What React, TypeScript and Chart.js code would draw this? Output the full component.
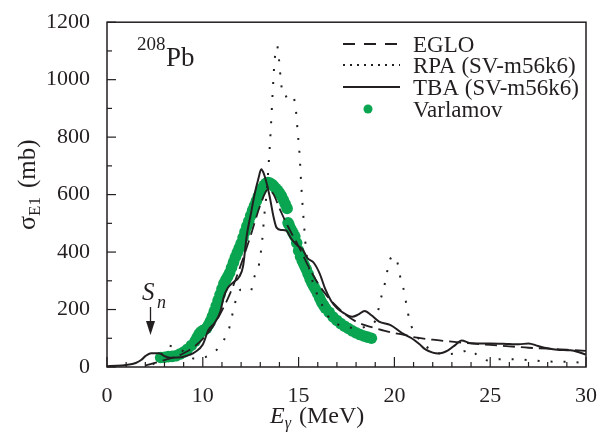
import { useEffect, useRef } from 'react';
import { Chart, registerables } from 'chart.js';

Chart.register(...registerables);

// ---- data ----
const egloEnergy = [7.0, 7.5, 8.0, 8.5, 9.0, 9.5, 10.0, 10.5, 11.0, 11.5, 12.0, 12.5, 13.0, 13.4, 13.7, 14.0, 14.5, 15.0, 15.5, 16.0, 16.5, 17.0, 17.5, 18.0, 18.5, 19.0, 19.5, 20.0, 20.5, 21.0, 22.0, 23.0, 24.0, 25.0, 26.0, 27.0, 28.0, 29.0, 30.0];
const egloSigma = [5, 14, 24, 34, 48, 68, 98, 138, 196, 268, 358, 458, 563, 618, 600, 552, 482, 420, 352, 292, 246, 210, 180, 158, 145, 135, 126, 118, 112, 104, 95, 88, 82, 77, 72, 67, 64, 60, 56];

const rpaEnergy = [7.4, 7.8, 8.2, 8.5, 8.8, 9.2, 9.5, 9.9, 10.3, 10.8, 11.1, 11.4, 11.6, 11.8, 12.0, 12.3, 12.5, 12.7, 12.9, 13.1, 13.2, 13.35, 13.45, 13.55, 13.65, 13.75, 13.88, 13.97, 14.1, 14.25, 14.45, 14.65, 14.85, 14.95, 15.05, 15.15, 15.3, 15.4, 15.6, 15.9, 16.2, 16.5, 17.0, 17.5, 18.0, 18.5, 19.0, 19.3, 19.5, 19.75, 19.95, 20.1, 20.3, 20.5, 20.7, 20.9, 21.2, 21.6, 22.2, 22.8, 23.4, 24.0, 24.4, 25.0, 25.5, 26.2, 27.0, 28.0, 29.0, 29.9];
const rpaSigma = [8, 40, 74, 70, 62, 45, 30, 30, 40, 65, 94, 140, 200, 250, 270, 270, 265, 315, 345, 440, 520, 620, 720, 830, 960, 1068, 1117, 1075, 980, 940, 945, 950, 900, 820, 740, 620, 480, 400, 330, 265, 220, 180, 150, 140, 135, 140, 160, 240, 290, 370, 385, 378, 315, 265, 190, 140, 105, 75, 50, 45, 50, 60, 35, 22, 27, 27, 24, 19, 18, 15];

const tbaEnergy = [5.0, 5.5, 6.0, 6.5, 6.8, 7.0, 7.3, 7.7, 8.0, 8.3, 8.6, 9.0, 9.3, 9.6, 10.0, 10.3, 10.6, 10.9, 11.1, 11.3, 11.6, 11.9, 12.1, 12.3, 12.5, 12.7, 12.9, 13.05, 13.2, 13.35, 13.5, 13.7, 13.85, 14.1, 14.35, 14.6, 14.9, 15.2, 15.45, 15.8, 16.1, 16.4, 16.7, 17.0, 17.3, 17.8, 18.1, 18.45, 18.8, 19.2, 19.8, 20.4, 20.9, 21.3, 21.6, 22.0, 22.3, 22.8, 23.2, 23.5, 24.0, 25.0, 26.0, 26.5, 27.0, 27.5, 28.0, 28.5, 29.2, 29.6, 30.0];
const tbaSigma = [3, 4, 7, 14, 25, 38, 48, 48, 38, 32, 33, 36, 42, 52, 78, 130, 152, 190, 245, 275, 295, 314, 350, 460, 530, 600, 655, 688, 670, 635, 590, 520, 485, 477, 475, 448, 425, 410, 380, 362, 325, 270, 230, 205, 190, 175, 182, 195, 180, 158, 146, 118, 100, 80, 62, 50, 47, 58, 78, 92, 83, 82, 80, 79, 82, 73, 65, 60, 58, 52, 43];

const varlamovEnergy = [7.8, 8.0, 8.2, 8.4, 8.6, 8.8, 9.0, 9.2, 9.4, 9.6, 9.7, 9.8, 9.9, 10.0, 10.1, 10.2, 10.3, 10.4, 10.5, 10.6, 10.7, 10.8, 10.9, 11.0, 11.1, 11.2, 11.3, 11.4, 11.5, 11.6, 11.7, 11.8, 11.9, 12.0, 12.1, 12.2, 12.3, 12.4, 12.5, 12.6, 12.7, 12.8, 12.9, 13.0, 13.1, 13.2, 13.3, 13.4, 13.5, 13.6, 13.7, 13.8, 13.9, 14.0, 14.1, 14.2, 14.3, 14.4, 14.45, 14.5, 14.6, 14.7, 14.8, 14.9, 15.0, 15.1, 15.2, 15.3, 15.4, 15.5, 15.6, 15.7, 15.8, 15.9, 16.0, 16.1, 16.2, 16.3, 16.4, 16.6, 16.8, 17.0, 17.2, 17.4, 17.6, 17.8, 18.0, 18.2, 18.4, 18.6, 18.8];
const varlamovSigma = [33, 34, 36, 37, 39, 45, 52, 62, 75, 90, 102, 114, 122, 127, 130, 135, 147, 160, 176, 194, 213, 232, 252, 272, 290, 303, 315, 328, 346, 364, 382, 398, 414, 430, 450, 470, 490, 508, 527, 545, 562, 578, 595, 610, 622, 632, 639, 642, 640, 636, 630, 622, 615, 606, 596, 582, 568, 552, 502, 495, 480, 468, 455, 432, 405, 385, 368, 354, 340, 323, 306, 292, 280, 268, 255, 240, 226, 215, 205, 190, 174, 162, 151, 142, 134, 126, 119, 113, 108, 104, 100];

const xTickValues = [5, 10, 15, 20, 25, 30];
const xTickLabels = ['0', '10', '15', '20', '25', '30'];
const yTickValues = [0, 200, 400, 600, 800, 1000, 1200];

const seriesNames = ['EGLO', 'RPA (SV-m56k6)', 'TBA (SV-m56k6)', 'Varlamov'];

const INK = '#231f20';
const GREEN = '#0aa550';
const SERIF = '"Liberation Serif", "Times New Roman", serif';

const toPoints = (xs: number[], ys: number[]) => xs.map((x, i) => ({ x, y: ys[i] }));

const decoPlugin = {
  id: 'deco',
  afterDraw(chart: any) {
    const { ctx, chartArea: a } = chart;
    const xs = chart.scales.x;
    const ys = chart.scales.y;
    ctx.save();
    // frame
    ctx.strokeStyle = INK;
    ctx.lineWidth = 1.5;
    ctx.setLineDash([]);
    ctx.strokeRect(a.left, a.top, a.right - a.left, a.bottom - a.top);
    // inward ticks
    ctx.lineWidth = 1.2;
    xs.ticks.forEach((t: any) => {
      const px = xs.getPixelForValue(t.value);
      const len = xTickValues.includes(t.value) ? 10 : 5;
      ctx.beginPath();
      ctx.moveTo(px, a.bottom);
      ctx.lineTo(px, a.bottom - len);
      ctx.stroke();
    });
    ys.ticks.forEach((t: any) => {
      const py = ys.getPixelForValue(t.value);
      const len = yTickValues.includes(t.value) ? 9 : 5;
      ctx.beginPath();
      ctx.moveTo(a.left, py);
      ctx.lineTo(a.left + len, py);
      ctx.stroke();
    });

    ctx.fillStyle = INK;
    ctx.textBaseline = 'alphabetic';
    ctx.textAlign = 'left';

    // legend
    const lx0 = 343, lx1 = 400, tx = 413;
    const rows = [52, 73, 95, 117];
    const styles = [
      { dash: [12, 9], w: 1.8 },
      { dash: [2, 5], w: 1.8 },
      { dash: [], w: 2 },
    ];
    ctx.font = `23px ${SERIF}`;
    rows.forEach((by, i) => {
      const cy = by - 8;
      if (i < 3) {
        ctx.strokeStyle = INK;
        ctx.lineWidth = styles[i].w;
        ctx.setLineDash(styles[i].dash);
        ctx.beginPath();
        ctx.moveTo(lx0, cy);
        ctx.lineTo(lx1, cy);
        ctx.stroke();
      } else {
        ctx.setLineDash([]);
        ctx.fillStyle = GREEN;
        ctx.beginPath();
        ctx.arc(368, cy, 4.5, 0, Math.PI * 2);
        ctx.fill();
      }
      ctx.fillStyle = INK;
      ctx.fillText(seriesNames[i], tx, by);
    });
    ctx.setLineDash([]);

    // 208Pb label
    ctx.font = `19px ${SERIF}`;
    ctx.fillText('208', 137, 50);
    ctx.font = `27px ${SERIF}`;
    ctx.fillText('Pb', 166, 66);

    // S_n label and arrow
    ctx.font = `italic 25px ${SERIF}`;
    ctx.fillText('S', 142, 300);
    ctx.font = `italic 18px ${SERIF}`;
    ctx.fillText('n', 157, 308);
    ctx.strokeStyle = INK;
    ctx.lineWidth = 1.3;
    ctx.beginPath();
    ctx.moveTo(150.5, 307);
    ctx.lineTo(150.5, 325);
    ctx.stroke();
    ctx.beginPath();
    ctx.moveTo(146, 321);
    ctx.lineTo(155, 321);
    ctx.lineTo(150.5, 335);
    ctx.closePath();
    ctx.fill();

    // x axis title
    const xt = 'E';
    ctx.font = `italic 24px ${SERIF}`;
    let x = 270;
    const by = 423;
    ctx.fillText(xt, x, by);
    x += ctx.measureText(xt).width;
    ctx.font = `italic 16px ${SERIF}`;
    ctx.fillText('γ', x, by + 5);
    x += ctx.measureText('γ').width + 8;
    ctx.font = `24px ${SERIF}`;
    ctx.fillText('(MeV)', x, by);

    // y axis title (rotated)
    ctx.save();
    ctx.translate(35, 230);
    ctx.rotate(-Math.PI / 2);
    let yx = 0;
    ctx.font = `26px ${SERIF}`;
    ctx.fillText('σ', yx, 0);
    yx += ctx.measureText('σ').width;
    ctx.font = `17px ${SERIF}`;
    ctx.fillText('E1', yx, 5);
    yx += ctx.measureText('E1').width + 9;
    ctx.font = `25px ${SERIF}`;
    ctx.fillText('(mb)', yx, 0);
    ctx.restore();

    ctx.restore();
  },
};

export default function App() {
  const canvasRef = useRef<HTMLCanvasElement | null>(null);

  useEffect(() => {
    if (!canvasRef.current) return;
    Chart.defaults.font.family = SERIF;
    const chart = new Chart(canvasRef.current, {
      type: 'line',
      data: {
        datasets: [
          {
            label: seriesNames[0],
            data: toPoints(egloEnergy, egloSigma),
            borderColor: INK,
            borderWidth: 1.8,
            borderDash: [12, 6],
            pointRadius: 0,
            fill: false,
            cubicInterpolationMode: 'monotone',
            order: 1,
          },
          {
            label: seriesNames[1],
            data: toPoints(rpaEnergy, rpaSigma),
            borderColor: INK,
            borderWidth: 2,
            borderDash: [2, 11],
            pointRadius: 0,
            fill: false,
            cubicInterpolationMode: 'monotone',
            order: 1,
          },
          {
            label: seriesNames[2],
            data: toPoints(tbaEnergy, tbaSigma),
            borderColor: INK,
            borderWidth: 2,
            pointRadius: 0,
            fill: false,
            cubicInterpolationMode: 'monotone',
            order: 1,
          },
          {
            label: seriesNames[3],
            data: toPoints(varlamovEnergy, varlamovSigma),
            showLine: false,
            pointRadius: 5.8,
            pointBorderWidth: 0,
            pointBackgroundColor: GREEN,
            pointBorderColor: GREEN,
            backgroundColor: GREEN,
            order: 5,
          },
        ],
      },
      options: {
        animation: false,
        responsive: true,
        maintainAspectRatio: false,
        layout: { padding: { top: 22, right: 16, left: 0, bottom: 0 } },
        plugins: {
          legend: { display: false },
          tooltip: { enabled: false },
        },
        scales: {
          x: {
            type: 'linear',
            min: 5,
            max: 30,
            grid: { display: false },
            border: { display: false },
            afterFit: (s: any) => { s.height = 67; },
            ticks: {
              stepSize: 1,
              autoSkip: false,
              maxRotation: 0,
              padding: 8,
              color: INK,
              font: { size: 22, family: SERIF },
              callback: (v: any) => {
                const i = xTickValues.indexOf(Number(v));
                return i >= 0 ? xTickLabels[i] : '';
              },
            },
          },
          y: {
            type: 'linear',
            min: 0,
            max: 1200,
            grid: { display: false },
            border: { display: false },
            afterFit: (s: any) => { s.width = 107; },
            ticks: {
              stepSize: 100,
              autoSkip: false,
              padding: 9,
              color: INK,
              font: { size: 22, family: SERIF },
              callback: (v: any) => (yTickValues.includes(Number(v)) ? String(v) : ''),
            },
          },
        },
      },
      plugins: [decoPlugin],
    } as any);
    return () => chart.destroy();
  }, []);

  return (
    <div style={{ position: 'fixed', left: 0, top: 0, width: 605, height: 434, background: '#fff' }}>
      <canvas ref={canvasRef} />
    </div>
  );
}
